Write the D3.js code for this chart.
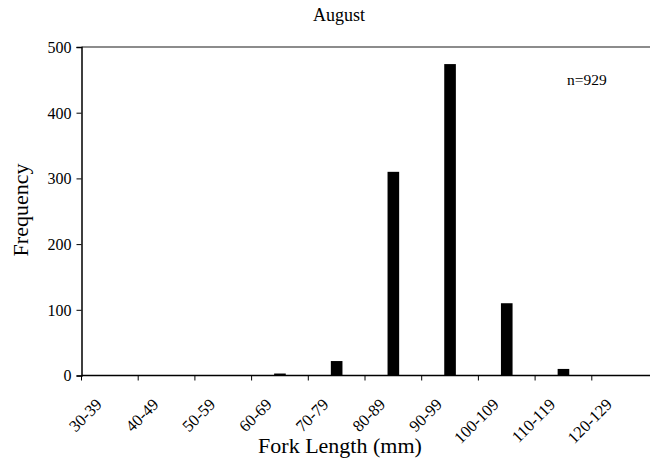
<!DOCTYPE html>
<html>
<head>
<meta charset="utf-8">
<script src="https://cdn.jsdelivr.net/npm/d3@7"></script>
<style>
  html, body { margin: 0; padding: 0; background: #fff; }
  svg text { font-family: "Liberation Serif", "Times New Roman", serif; fill: #000; }
</style>
</head>
<body>
<svg id="chart" width="650" height="466"></svg>
<script>
// Fork length classes (mm) and fish counts per class
const categories = ["30-39", "40-49", "50-59", "60-69", "70-79", "80-89", "90-99", "100-109", "110-119", "120-129"];
const counts = [0, 0, 0, 3, 22, 310, 474, 110, 10, 0];
const yTicks = [0, 100, 200, 300, 400, 500];
const chartTitle = "August";
const xTitle = "Fork Length (mm)";
const yTitle = "Frequency";
const sampleNote = "n=929";

const margin = { left: 81.5, right: 650, top: 47, bottom: 375.5 };
const svg = d3.select("#chart");

const x = d3.scaleBand().domain(categories).range([margin.left, margin.left + 56.7 * categories.length]).padding(0);
const y = d3.scaleLinear().domain([0, 500]).range([margin.bottom, margin.top]);
const barW = x.bandwidth() * 0.205;

// top border of plot area
svg.append("line")
  .attr("x1", margin.left).attr("x2", 650)
  .attr("y1", y(500)).attr("y2", y(500))
  .attr("stroke", "#8c8c8c").attr("stroke-width", 2);

// bars
svg.append("g").selectAll("rect")
  .data(categories.map((c, i) => ({ c, v: counts[i] })).filter(d => d.v > 0))
  .join("rect")
  .attr("x", d => x(d.c) + x.bandwidth() / 2 - barW / 2)
  .attr("width", barW)
  .attr("y", d => y(d.v))
  .attr("height", d => y(0) - y(d.v))
  .attr("fill", "#000");

// y axis
const yAxis = svg.append("g")
  .attr("transform", `translate(${margin.left},0)`)
  .call(d3.axisLeft(y).tickValues(yTicks).tickSize(5).tickPadding(5));
yAxis.attr("font-size", null).attr("font-family", null);
yAxis.select(".domain").attr("stroke", "#000").attr("stroke-width", 1.5);
yAxis.selectAll(".tick line").attr("stroke", "#000");
yAxis.selectAll("text").attr("font-size", 16).attr("dy", "0.34em");

// x axis: ticks on class boundaries
const boundaries = categories.map(c => x(c));
const xg = svg.append("g");
xg.append("line")
  .attr("x1", margin.left).attr("x2", 650)
  .attr("y1", y(0)).attr("y2", y(0))
  .attr("stroke", "#000").attr("stroke-width", 1.5);
xg.selectAll("line.tk").data(boundaries).join("line")
  .attr("class", "tk")
  .attr("x1", d => d).attr("x2", d => d)
  .attr("y1", y(0)).attr("y2", y(0) + 5)
  .attr("stroke", "#000");
xg.selectAll("text").data(categories).join("text")
  .attr("text-anchor", "end")
  .attr("font-size", 16.5)
  .attr("transform", d => `translate(${x(d) + x.bandwidth() / 2 - 7},${y(0) + 30}) rotate(-45)`)
  .text(d => d);

// titles
svg.append("text")
  .attr("x", 339).attr("y", 21)
  .attr("text-anchor", "middle").attr("font-size", 18)
  .text(chartTitle);
svg.append("text")
  .attr("x", 340).attr("y", 453)
  .attr("text-anchor", "middle").attr("font-size", 22)
  .text(xTitle);
svg.append("text")
  .attr("transform", "translate(28,210) rotate(-90)")
  .attr("text-anchor", "middle").attr("font-size", 22)
  .text(yTitle);
svg.append("text")
  .attr("x", 567).attr("y", 85)
  .attr("font-size", 15.5)
  .text(sampleNote);
</script>
</body>
</html>
